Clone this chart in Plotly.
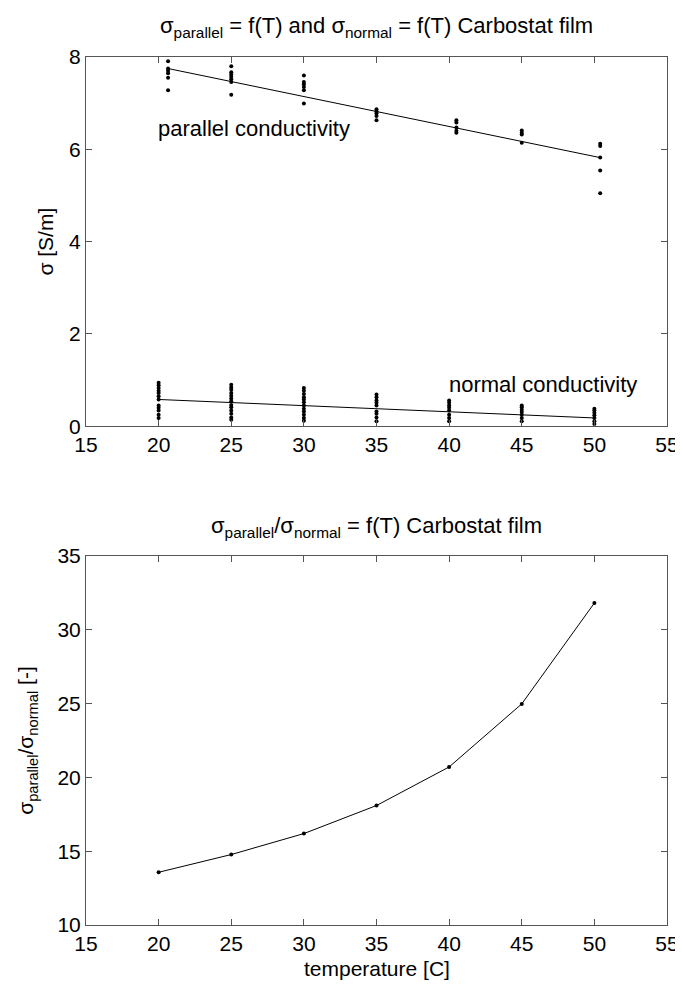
import plotly.graph_objects as go

# ---- data ----
T_par = [20.65, 25, 30, 35, 40.5, 45, 50.4]
par_vals = [
    [7.91, 7.75, 7.70, 7.65, 7.55, 7.28],
    [7.80, 7.67, 7.62, 7.57, 7.52, 7.46, 7.18],
    [7.60, 7.46, 7.41, 7.35, 7.28, 6.99],
    [6.87, 6.82, 6.78, 6.72, 6.63],
    [6.63, 6.58, 6.47, 6.40, 6.36],
    [6.41, 6.36, 6.32, 6.14],
    [6.12, 6.07, 5.82, 5.54, 5.05],
]
fit_par_T = [20.65, 50.4]
fit_par_y = [7.75, 5.82]

T_norm = [20, 25, 30, 35, 40, 45, 50]
norm_vals = [
    [0.94, 0.89, 0.83, 0.77, 0.72, 0.65, 0.58, 0.45, 0.40, 0.34, 0.25, 0.18],
    [0.90, 0.84, 0.79, 0.72, 0.66, 0.60, 0.54, 0.46, 0.41, 0.34, 0.27, 0.19, 0.14],
    [0.83, 0.77, 0.70, 0.63, 0.58, 0.52, 0.45, 0.38, 0.32, 0.25, 0.18, 0.12],
    [0.69, 0.63, 0.56, 0.51, 0.45, 0.32, 0.27, 0.19, 0.11],
    [0.56, 0.51, 0.45, 0.40, 0.34, 0.25, 0.18, 0.11],
    [0.45, 0.41, 0.36, 0.31, 0.25, 0.18, 0.11],
    [0.38, 0.34, 0.29, 0.24, 0.18, 0.11, 0.05],
]
fit_norm_T = [20, 50]
fit_norm_y = [0.58, 0.18]

T_ratio = [20, 25, 30, 35, 40, 45, 50]
ratio = [13.57, 14.77, 16.19, 18.09, 20.70, 24.97, 31.80]

x_ticks = [15, 20, 25, 30, 35, 40, 45, 50, 55]
y1_ticks = [0, 2, 4, 6, 8]
y2_ticks = [10, 15, 20, 25, 30, 35]

FONT = "Liberation Sans, Arial, sans-serif"
FS = 21
AX = "#555555"

fig = go.Figure()

def flat(Ts, vals):
    xs, ys = [], []
    for t, v in zip(Ts, vals):
        for y in v:
            xs.append(t)
            ys.append(y)
    return xs, ys

px_, py_ = flat(T_par, par_vals)
nx_, ny_ = flat(T_norm, norm_vals)

dot = dict(color="black", size=4)
fig.add_trace(go.Scatter(x=px_, y=py_, mode="markers", marker=dot, xaxis="x", yaxis="y"))
fig.add_trace(go.Scatter(x=fit_par_T, y=fit_par_y, mode="lines", line=dict(color="black", width=1), xaxis="x", yaxis="y"))
fig.add_trace(go.Scatter(x=nx_, y=ny_, mode="markers", marker=dot, xaxis="x", yaxis="y"))
fig.add_trace(go.Scatter(x=fit_norm_T, y=fit_norm_y, mode="lines", line=dict(color="black", width=1), xaxis="x", yaxis="y"))
fig.add_trace(go.Scatter(x=T_ratio, y=ratio, mode="lines+markers", marker=dict(color="black", size=4),
                         line=dict(color="black", width=1), xaxis="x2", yaxis="y2"))

axis_common = dict(showline=True, linecolor=AX, linewidth=1, mirror="ticks", ticks="inside",
                   ticklen=6, tickcolor=AX, showgrid=False, zeroline=False,
                   tickfont=dict(family=FONT, size=FS, color="black"))

fig.update_layout(
    width=683, height=985,
    margin=dict(l=78, r=14, t=49, b=68),
    paper_bgcolor="white", plot_bgcolor="white",
    showlegend=False,
    font=dict(family=FONT, size=FS, color="black"),
    xaxis=dict(range=[15, 55], tickvals=x_ticks, anchor="y", domain=[0, 1], **axis_common),
    yaxis=dict(range=[0, 8], tickvals=y1_ticks, anchor="x", domain=[0.5746, 1], **axis_common),
    xaxis2=dict(range=[15, 55], tickvals=x_ticks, anchor="y2", domain=[0, 1], **axis_common),
    yaxis2=dict(range=[10, 35], tickvals=y2_ticks, anchor="x2", domain=[0, 0.4254], **axis_common),
)

ann = [
    dict(text="σ<sub>parallel</sub> = f(T) and σ<sub>normal</sub> = f(T) Carbostat film",
         xref="paper", yref="paper", x=0.5, y=1.034, xanchor="center", yanchor="middle",
         showarrow=False, font=dict(size=22)),
    dict(text="σ<sub>parallel</sub>/σ<sub>normal</sub> = f(T) Carbostat film",
         xref="paper", yref="paper", x=0.5, y=0.458, xanchor="center", yanchor="middle",
         showarrow=False, font=dict(size=22)),
    dict(text="σ [S/m]", xref="paper", yref="paper", x=-0.069, y=0.7873, textangle=-90,
         xanchor="center", yanchor="middle", showarrow=False, font=dict(size=FS)),
    dict(text="σ<sub>parallel</sub>/σ<sub>normal</sub> [-]", xref="paper", yref="paper",
         x=-0.1005, y=0.2129, textangle=-90, xanchor="center", yanchor="middle",
         showarrow=False, font=dict(size=FS)),
    dict(text="temperature [C]", xref="paper", yref="paper", x=0.5, y=-0.05,
         xanchor="center", yanchor="middle", showarrow=False, font=dict(size=FS)),
    dict(text="parallel conductivity", xref="x", yref="y", x=19.85, y=6.45,
         xanchor="left", yanchor="middle", showarrow=False, font=dict(size=22)),
    dict(text="normal conductivity", xref="x", yref="y", x=39.85, y=0.90,
         xanchor="left", yanchor="middle", showarrow=False, font=dict(size=22)),
]
fig.update_layout(annotations=ann)

fig.write_html("out.html")
